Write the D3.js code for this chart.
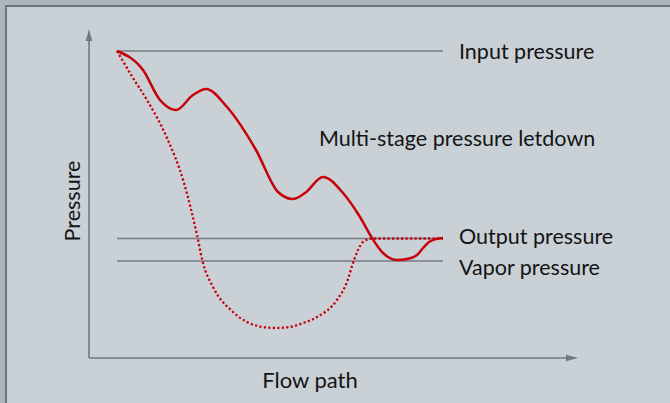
<!DOCTYPE html>
<html>
<head>
<meta charset="utf-8">
<script src="https://cdn.jsdelivr.net/npm/d3@7"></script>
<style>
  html, body { margin: 0; padding: 0; background: #c9d0d6; }
  svg { display: block; }
  text { font-family: Lato, "Noto Sans", sans-serif; fill: #141414; }
</style>
</head>
<body>
<div id="chart"></div>
<script>
// flow path / pressure in arbitrary units
var multiFlow = [28, 54, 71, 87, 104, 117, 138, 167, 189, 204, 216, 234, 254, 271, 283, 294, 308, 318, 328, 334, 340, 347, 354];
var multiPressure = [307, 288, 258, 248, 263, 269, 251, 208, 166, 159, 165, 181, 165, 141, 120, 105, 98, 99, 103, 110, 116, 119, 120];

var singleFlow = [28, 44, 58, 78, 95, 108, 114, 124, 144, 158, 174, 188, 201, 214, 228, 248, 258, 265, 274, 283, 311, 354];
var singlePressure = [307, 280, 258, 220, 175, 123, 95, 71, 46, 36, 31, 30, 31, 35, 41, 58, 76, 98, 116, 119.5, 119.5, 119.5];

var levelNames = ['Input pressure', 'Output pressure', 'Vapor pressure'];
var levelValues = [307, 119.5, 97];
var levelRange = [28, 354];

var width = 670, height = 403;
var svg = d3.select('#chart').append('svg')
    .attr('width', width)
    .attr('height', height);

// frame
svg.append('rect').attr('x', 0).attr('y', 0).attr('width', width).attr('height', 6).style('fill', '#adb6bc');
svg.append('rect').attr('x', 0).attr('y', 0).attr('width', 6).attr('height', height).style('fill', '#adb6bc');
svg.append('rect').attr('x', 5).attr('y', 5).attr('width', width).attr('height', 2).style('fill', '#6c747a');
svg.append('rect').attr('x', 5).attr('y', 5).attr('width', 2).attr('height', height).style('fill', '#6c747a');

var x = d3.scaleLinear().domain([0, 490]).range([89, 579]);
var y = d3.scaleLinear().domain([0, 310]).range([358, 48]);

var axisColor = '#70787e';
// axes with arrows
svg.append('line')
    .attr('x1', x(0)).attr('y1', y(0))
    .attr('x2', x(0)).attr('y2', 40)
    .style('stroke', axisColor).style('stroke-width', 1.6);
svg.append('path')
    .attr('d', 'M' + (x(0) - 3.2) + ',41 L' + x(0) + ',29 L' + (x(0) + 3.2) + ',41 Z')
    .style('fill', axisColor);
svg.append('line')
    .attr('x1', x(0)).attr('y1', y(0))
    .attr('x2', 567).attr('y2', y(0))
    .style('stroke', axisColor).style('stroke-width', 1.6);
svg.append('path')
    .attr('d', 'M566,' + (y(0) - 3.2) + ' L578,' + y(0) + ' L566,' + (y(0) + 3.2) + ' Z')
    .style('fill', axisColor);

// pressure levels
svg.selectAll('.level').data(levelValues).enter().append('line')
    .attr('class', 'level')
    .attr('x1', x(levelRange[0])).attr('x2', x(levelRange[1]))
    .attr('y1', function (d) { return y(d); })
    .attr('y2', function (d) { return y(d); })
    .style('stroke', '#767d83').style('stroke-width', 1.3);

var labelY = [59, 244, 275];
svg.selectAll('.lvl-label').data(levelNames).enter().append('text')
    .attr('x', 459)
    .attr('y', function (d, i) { return labelY[i]; })
    .style('font-size', '21.5px')
    .text(function (d) { return d; });

svg.append('text').attr('x', 319).attr('y', 146).style('font-size', '21.5px').text('Multi-stage pressure letdown');
svg.append('text').attr('x', 310).attr('y', 388).attr('text-anchor', 'middle').style('font-size', '22px').text('Flow path');
svg.append('text')
    .attr('transform', 'translate(80,201) rotate(-90)')
    .attr('text-anchor', 'middle')
    .style('font-size', '21.5px')
    .text('Pressure');

var line = d3.line()
    .x(function (d) { return x(d[0]); })
    .y(function (d) { return y(d[1]); })
    .curve(d3.curveMonotoneX);

svg.append('path')
    .datum(d3.zip(singleFlow, singlePressure))
    .attr('d', line)
    .style('fill', 'none')
    .style('stroke', '#c8000a')
    .style('stroke-width', 2.3)
    .style('stroke-dasharray', '2.2,2.3');

svg.append('path')
    .datum(d3.zip(multiFlow, multiPressure))
    .attr('d', line)
    .style('fill', 'none')
    .style('stroke', '#c8000a')
    .style('stroke-width', 2.5);
</script>
</body>
</html>
